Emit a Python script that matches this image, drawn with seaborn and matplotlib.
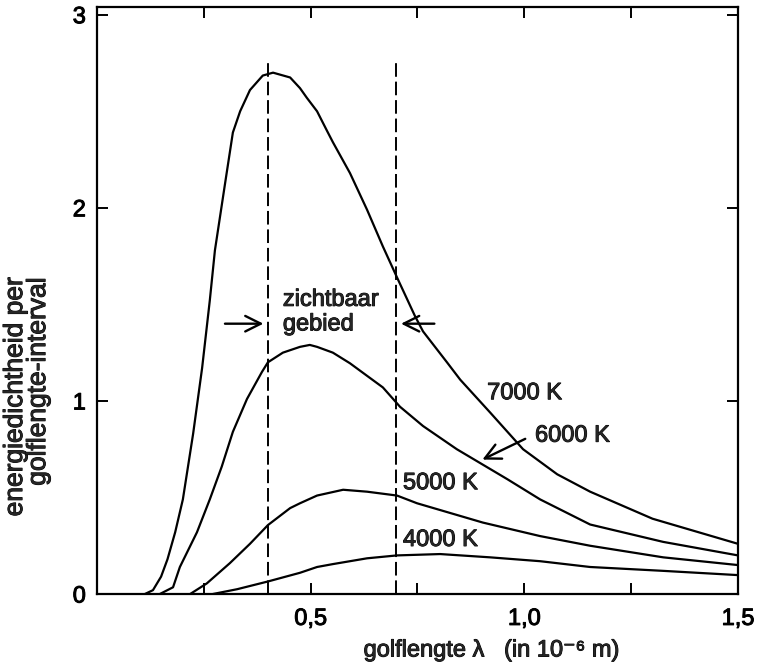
import numpy as np
import pandas as pd
import seaborn as sns
import matplotlib
matplotlib.use("Agg")
import matplotlib.pyplot as plt
import matplotlib.patheffects as pe

# wavelength (10^-6 m) and energy density
lam7000 = [0.112, 0.131, 0.150, 0.165, 0.183, 0.201, 0.225, 0.246, 0.264, 0.276, 0.300, 0.318, 0.335,
           0.358, 0.388, 0.412, 0.452, 0.475, 0.491, 0.515, 0.538, 0.552, 0.592, 0.632, 0.669, 0.702,
           0.744, 0.763, 0.819, 0.850, 0.920, 0.997, 1.077, 1.154, 1.30, 1.50]
e7000 = [0, 0.02, 0.09, 0.18, 0.32, 0.49, 0.83, 1.17, 1.52, 1.78, 2.13, 2.39, 2.50,
         2.61, 2.685, 2.70, 2.675, 2.62, 2.57, 2.50, 2.40, 2.34, 2.18, 1.99, 1.80, 1.64,
         1.44, 1.36, 1.20, 1.11, 0.94, 0.75, 0.62, 0.53, 0.39, 0.26]

lam6000 = [0.147, 0.178, 0.194, 0.234, 0.264, 0.292, 0.318, 0.351, 0.386, 0.400, 0.435, 0.475, 0.498,
           0.515, 0.552, 0.592, 0.632, 0.669, 0.697, 0.709, 0.763, 0.842, 0.960, 1.037, 1.154, 1.325, 1.50]
e6000 = [0, 0.035, 0.14, 0.32, 0.49, 0.66, 0.84, 1.01, 1.15, 1.20, 1.25, 1.28, 1.29,
         1.28, 1.25, 1.195, 1.13, 1.07, 1.0, 0.97, 0.87, 0.75, 0.595, 0.49, 0.36, 0.27, 0.20]

lam5000 = [0.218, 0.257, 0.311, 0.358, 0.400, 0.452, 0.475, 0.515, 0.576, 0.632, 0.702, 0.749, 0.826,
           0.903, 1.037, 1.154, 1.325, 1.50]
e5000 = [0, 0.055, 0.16, 0.26, 0.357, 0.445, 0.47, 0.51, 0.54, 0.53, 0.51, 0.47, 0.42,
         0.37, 0.30, 0.25, 0.19, 0.15]

lam4000 = [0.271, 0.328, 0.400, 0.475, 0.515, 0.552, 0.632, 0.702, 0.803, 0.920, 1.037, 1.154, 1.325, 1.50]
e4000 = [0, 0.025, 0.065, 0.11, 0.14, 0.155, 0.185, 0.20, 0.207, 0.19, 0.17, 0.14, 0.12, 0.098]

curve_labels = ["7000 K", "6000 K", "5000 K", "4000 K"]
visible = [0.40, 0.70]
xtick_vals = [0.25, 0.5, 0.75, 1.0, 1.25, 1.5]
xtick_text = ["", "0,5", "", "1,0", "", "1,5"]
ytick_vals = [0, 1, 2, 3]


def main():
    sns.set_theme(style="ticks")
    plt.rcParams['font.family'] = ['Liberation Sans', 'DejaVu Sans']

    df = pd.concat([
        pd.DataFrame({"lam": lam7000, "e": e7000, "T": curve_labels[0]}),
        pd.DataFrame({"lam": lam6000, "e": e6000, "T": curve_labels[1]}),
        pd.DataFrame({"lam": lam5000, "e": e5000, "T": curve_labels[2]}),
        pd.DataFrame({"lam": lam4000, "e": e4000, "T": curve_labels[3]}),
    ])

    fig = plt.figure(figsize=(7.69, 6.67), dpi=100)
    ax = fig.add_axes([0.1261, 0.1094, 0.8336, 0.8801])

    sns.lineplot(data=df, x="lam", y="e", hue="T", palette=["black"] * 4,
                 estimator=None, sort=True, legend=False, lw=1.6, ax=ax)

    ax.vlines(visible, 0, 2.77, colors="black", linestyles=(0, (7, 2.5)), lw=1.4)

    bold = [pe.withStroke(linewidth=0.7, foreground="black")]

    ax.set_xlim(0, 1.5)
    ax.set_ylim(0, 3.04)
    ax.set_xticks(xtick_vals)
    ax.set_xticklabels(xtick_text)
    ax.set_yticks(ytick_vals)
    ax.set_yticklabels([str(v) for v in ytick_vals])
    ax.tick_params(direction="in", length=8, width=1.4, top=True, right=True,
                   labelsize=17, colors="black")
    ax.tick_params(axis="x", pad=10)
    ax.tick_params(axis="y", pad=8)
    for lab in ax.get_xticklabels() + ax.get_yticklabels():
        lab.set_path_effects(bold)
    for s in ax.spines.values():
        s.set_linewidth(1.6)
        s.set_color("black")
    ax.set_xlabel("")
    ax.set_ylabel("")

    fs = 17
    ax.text(0.913, 1.04, "7000 K", fontsize=fs, ha="left", va="center", path_effects=bold)
    ax.text(1.025, 0.82, "6000 K", fontsize=fs, ha="left", va="center", path_effects=bold)
    ax.text(0.716, 0.574, "5000 K", fontsize=fs, ha="left", va="center", path_effects=bold)
    ax.text(0.716, 0.28, "4000 K", fontsize=fs, ha="left", va="center", path_effects=bold)
    ax.text(0.435, 1.46, "zichtbaar\ngebied", fontsize=fs, ha="left", va="center",
            linespacing=1.15, path_effects=bold)

    arrow = dict(arrowstyle="->", lw=1.7, color="black", mutation_scale=28)
    ax.annotate("", xy=(0.396, 1.40), xytext=(0.293, 1.40), arrowprops=arrow)
    ax.annotate("", xy=(0.705, 1.40), xytext=(0.796, 1.40), arrowprops=arrow)
    ax.annotate("", xy=(0.896, 0.69), xytext=(1.008, 0.81), arrowprops=arrow)

    fig.text(0.640, 0.0255, "golflengte λ   (in 10⁻⁶ m)", fontsize=fs,
             ha="center", va="center", path_effects=bold)
    fig.text(0.004, 0.405, "energiedichtheid per\ngolflengte-interval", fontsize=19,
             rotation=90, ha="left", va="center", multialignment="right",
             linespacing=0.95, path_effects=bold)

    fig.savefig("out.png", dpi=100)


if __name__ == "__main__":
    main()
